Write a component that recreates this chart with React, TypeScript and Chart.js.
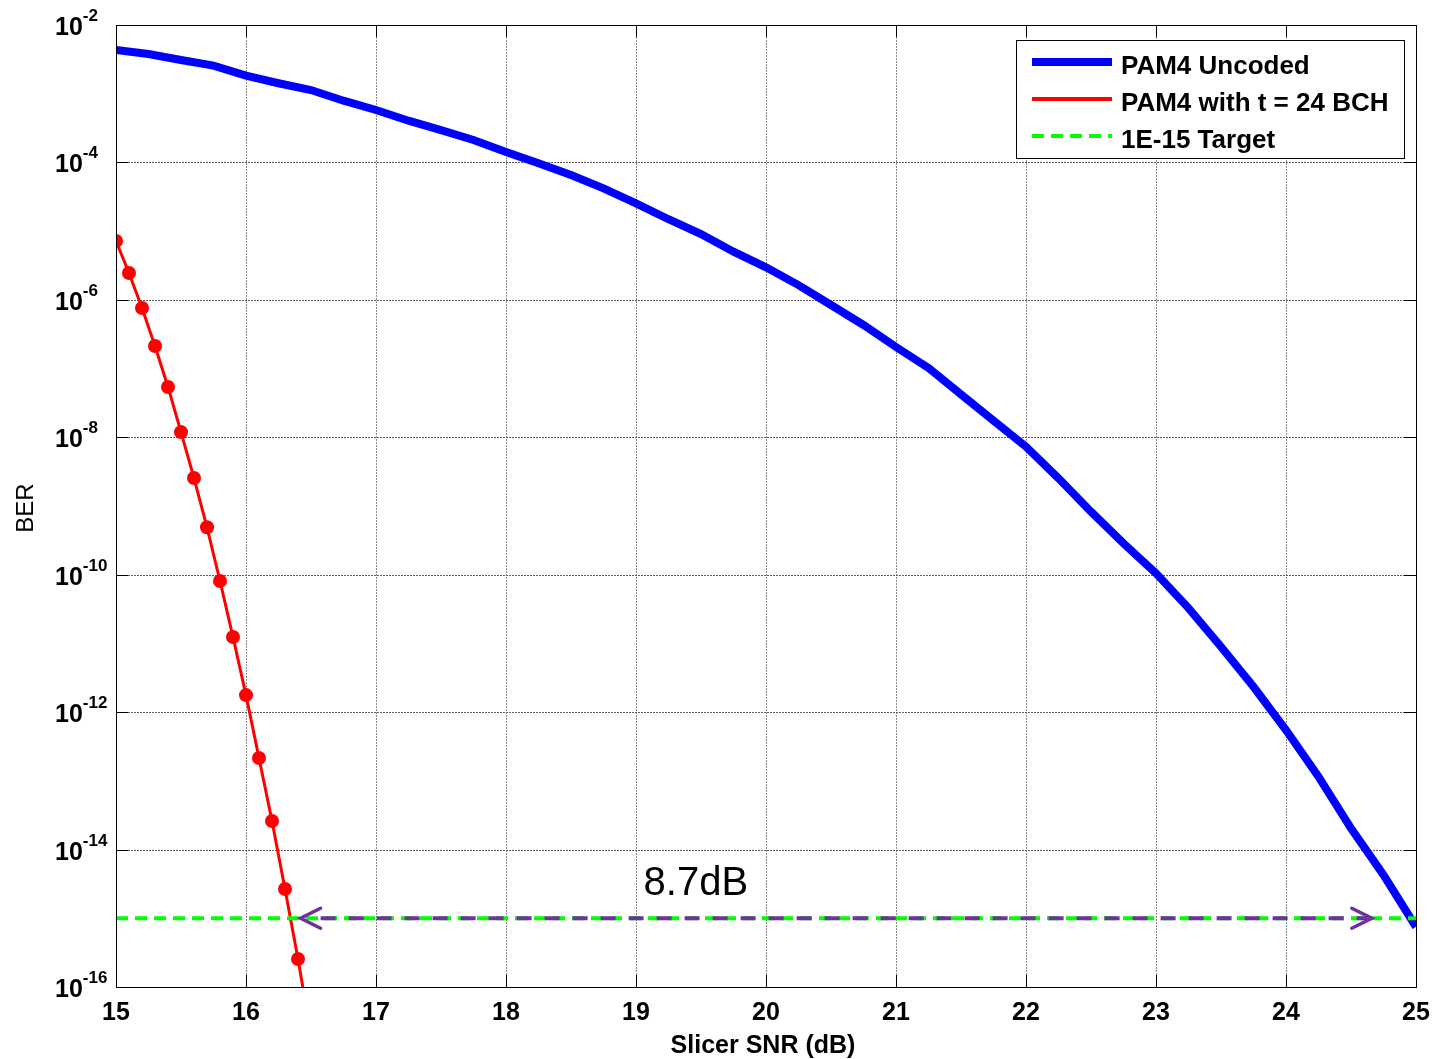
import React, { useEffect, useRef } from "react";
import { Chart, registerables } from "chart.js";

Chart.register(...registerables);

// ---- Data ----
const snrUncoded = [
  15, 15.25, 15.5, 15.75, 16, 16.25, 16.5, 16.75, 17, 17.25, 17.5, 17.75, 18,
  18.25, 18.5, 18.75, 19, 19.25, 19.5, 19.75, 20, 20.25, 20.5, 20.75, 21,
  21.25, 21.5, 21.75, 22, 22.25, 22.5, 22.75, 23, 23.25, 23.5, 23.75, 24,
  24.25, 24.5, 24.75, 25,
];
const berUncoded = [
  4.33e-3, 3.79e-3, 3.1e-3, 2.56e-3, 1.83e-3, 1.42e-3, 1.13e-3, 7.91e-4,
  5.79e-4, 4.05e-4, 2.96e-4, 2.12e-4, 1.42e-4, 9.71e-5, 6.56e-5, 4.2e-5,
  2.54e-5, 1.49e-5, 9.08e-6, 5.02e-6, 2.98e-6, 1.64e-6, 8.41e-7, 4.31e-7,
  2.06e-7, 1.02e-7, 4.2e-8, 1.75e-8, 7.3e-9, 2.53e-9, 8.26e-10, 2.86e-10,
  1.05e-10, 3.27e-11, 8.95e-12, 2.34e-12, 5.5e-13, 1.15e-13, 2.04e-14,
  4.27e-15, 7.53e-16,
];
const snrBch = [
  15, 15.1, 15.2, 15.3, 15.4, 15.5, 15.6, 15.7, 15.8, 15.9, 16, 16.1, 16.2,
  16.3, 16.4, 16.5,
];
const berBch = [
  7.2e-6, 2.46e-6, 7.6e-7, 2.13e-7, 5.4e-8, 1.19e-8, 2.55e-9, 4.9e-10,
  8.1e-11, 1.24e-11, 1.77e-12, 2.15e-13, 2.6e-14, 2.67e-15, 2.55e-16, 2.0e-17,
];
const snrTarget = [15, 25];
const berTarget = [1e-15, 1e-15];
const xTickValues = [15, 16, 17, 18, 19, 20, 21, 22, 23, 24, 25];
const yTickExponents = [-2, -4, -6, -8, -10, -12, -14, -16];
const seriesLabels = ["PAM4 Uncoded", "PAM4 with t = 24 BCH", "1E-15 Target"];
const arrowSnr = [16.42, 24.66];
const arrowBer = 1e-15;
const gapLabel = "8.7dB";
const gapLabelSnr = 19.46;
const gapLabelBer = 2.2e-15;
const xTitle = "Slicer SNR (dB)";
const yTitle = "BER";

const FONT = "'Liberation Sans', Arial, Helvetica, sans-serif";
const BLUE = "#0000FF";
const RED = "#FF0000";
const GREEN = "#00FF00";
const PURPLE = "#7030A0";

const decorPlugin = {
  id: "matlabDecor",
  beforeDatasetsDraw(chart: any) {
    const { ctx, chartArea: a, scales } = chart;
    const xs = scales.x;
    const ys = scales.y;
    ctx.save();
    ctx.fillStyle = "#fff";
    ctx.fillRect(a.left, a.top, a.right - a.left, a.bottom - a.top);
    ctx.strokeStyle = "#8a8a8a";
    ctx.lineWidth = 1;
    ctx.setLineDash([2, 1]);
    for (const v of xTickValues) {
      const px = Math.round(xs.getPixelForValue(v)) + 0.5;
      ctx.beginPath();
      ctx.moveTo(px, a.top);
      ctx.lineTo(px, a.bottom);
      ctx.stroke();
    }
    ctx.strokeStyle = "#606060";
    for (const e of yTickExponents) {
      const py = Math.round(ys.getPixelForValue(Math.pow(10, e))) + 0.5;
      ctx.beginPath();
      ctx.moveTo(a.left, py);
      ctx.lineTo(a.right, py);
      ctx.stroke();
    }
    ctx.restore();
  },
  afterDraw(chart: any) {
    const { ctx, chartArea: a, scales } = chart;
    const xs = scales.x;
    const ys = scales.y;
    ctx.save();

    // arrow annotation
    const ay = ys.getPixelForValue(arrowBer);
    const ax0 = xs.getPixelForValue(arrowSnr[0]);
    const ax1 = xs.getPixelForValue(arrowSnr[1]);
    ctx.strokeStyle = PURPLE;
    ctx.lineWidth = 4;
    ctx.setLineDash([15, 13]);
    ctx.beginPath();
    ctx.moveTo(ax0 + 20, ay);
    ctx.lineTo(ax1 - 4, ay);
    ctx.stroke();
    ctx.setLineDash([]);
    ctx.lineWidth = 3.5;
    ctx.lineCap = "round";
    ctx.lineJoin = "miter";
    ctx.beginPath();
    ctx.moveTo(ax0 + 20, ay - 10);
    ctx.lineTo(ax0, ay);
    ctx.lineTo(ax0 + 20, ay + 10);
    ctx.moveTo(ax1 - 20, ay - 10);
    ctx.lineTo(ax1, ay);
    ctx.lineTo(ax1 - 20, ay + 10);
    ctx.stroke();
    ctx.lineCap = "butt";

    ctx.fillStyle = "#000";
    ctx.font = `40px ${FONT}`;
    ctx.textAlign = "center";
    ctx.textBaseline = "alphabetic";
    ctx.fillText(gapLabel, xs.getPixelForValue(gapLabelSnr), ys.getPixelForValue(gapLabelBer));

    // box + ticks
    ctx.strokeStyle = "#000";
    ctx.lineWidth = 1;
    ctx.strokeRect(Math.round(a.left) + 0.5, Math.round(a.top) + 0.5, Math.round(a.right - a.left), Math.round(a.bottom - a.top));
    const tl = 12;
    ctx.beginPath();
    for (const v of xTickValues) {
      const px = Math.round(xs.getPixelForValue(v)) + 0.5;
      ctx.moveTo(px, a.top);
      ctx.lineTo(px, a.top + tl);
      ctx.moveTo(px, a.bottom);
      ctx.lineTo(px, a.bottom - tl);
    }
    for (const e of yTickExponents) {
      const py = Math.round(ys.getPixelForValue(Math.pow(10, e))) + 0.5;
      ctx.moveTo(a.left, py);
      ctx.lineTo(a.left + tl, py);
      ctx.moveTo(a.right, py);
      ctx.lineTo(a.right - tl, py);
    }
    ctx.stroke();

    // x tick labels
    ctx.fillStyle = "#000";
    ctx.font = `bold 25px ${FONT}`;
    ctx.textAlign = "center";
    for (const v of xTickValues) {
      ctx.fillText(String(v), xs.getPixelForValue(v), a.bottom + 33);
    }
    // y tick labels with superscript
    for (const e of yTickExponents) {
      const py = ys.getPixelForValue(Math.pow(10, e));
      ctx.textAlign = "left";
      ctx.font = `bold 25px ${FONT}`;
      ctx.fillText("10", 55, py + 10);
      const w = ctx.measureText("10").width;
      ctx.font = `bold 17px ${FONT}`;
      ctx.fillText(String(e), 55 + w, py - 4);
    }
    // axis titles
    ctx.font = `bold 25px ${FONT}`;
    ctx.textAlign = "center";
    ctx.fillText(xTitle, (a.left + a.right) / 2 - 3, a.bottom + 66);
    ctx.save();
    ctx.translate(33, 508);
    ctx.rotate(-Math.PI / 2);
    ctx.font = `24px ${FONT}`;
    ctx.fillText(yTitle, 0, 0);
    ctx.restore();

    // legend
    const lx = 1016.5, ly = 40.5, lw = 388, lh = 118;
    ctx.fillStyle = "#fff";
    ctx.fillRect(lx, ly, lw, lh);
    ctx.strokeStyle = "#000";
    ctx.lineWidth = 1;
    ctx.strokeRect(lx, ly, lw, lh);
    const rows = [
      { y: 62, color: BLUE, width: 8, dash: [] as number[] },
      { y: 99, color: RED, width: 4, dash: [] as number[] },
      { y: 136, color: GREEN, width: 4, dash: [12, 7] },
    ];
    rows.forEach((r, i) => {
      ctx.strokeStyle = r.color;
      ctx.lineWidth = r.width;
      ctx.setLineDash(r.dash);
      ctx.beginPath();
      ctx.moveTo(1032, r.y);
      ctx.lineTo(1112, r.y);
      ctx.stroke();
      ctx.setLineDash([]);
      ctx.fillStyle = "#000";
      ctx.font = `bold 26px ${FONT}`;
      ctx.textAlign = "left";
      ctx.fillText(seriesLabels[i], 1121, r.y + 12);
    });
    ctx.restore();
  },
};

export default function App() {
  const ref = useRef<HTMLCanvasElement | null>(null);
  useEffect(() => {
    document.body.style.margin = "0";
    document.body.style.background = "#fff";
    if (!ref.current) return;
    const chart = new Chart(ref.current, {
      type: "line",
      data: {
        datasets: [
          {
            label: seriesLabels[0],
            data: snrUncoded.map((x, i) => ({ x, y: berUncoded[i] })),
            borderColor: BLUE,
            backgroundColor: BLUE,
            borderWidth: 8,
            pointRadius: 0,
            tension: 0,
            clip: 0,
            order: 2,
          },
          {
            label: seriesLabels[1],
            data: snrBch.map((x, i) => ({ x, y: berBch[i] })),
            borderColor: RED,
            backgroundColor: RED,
            borderWidth: 3,
            pointRadius: 7,
            pointHoverRadius: 7,
            pointBorderWidth: 0,
            tension: 0,
            clip: 0,
            order: 3,
          },
          {
            label: seriesLabels[2],
            data: snrTarget.map((x, i) => ({ x, y: berTarget[i] })),
            borderColor: GREEN,
            backgroundColor: GREEN,
            borderWidth: 4,
            borderDash: [12, 7],
            pointRadius: 0,
            clip: 0,
            order: 1,
          },
        ],
      } as any,
      options: {
        animation: false,
        responsive: false,
        devicePixelRatio: 1,
        layout: { padding: { left: 116, right: 18, top: 25, bottom: 72 } },
        plugins: { legend: { display: false }, tooltip: { enabled: false } },
        events: [],
        scales: {
          x: { type: "linear", min: 15, max: 25, display: false },
          y: { type: "logarithmic", min: 1e-16, max: 1e-2, display: false },
        },
      } as any,
      plugins: [decorPlugin],
    });
    return () => chart.destroy();
  }, []);
  return <canvas ref={ref} width={1434} height={1059} style={{ display: "block" }} />;
}
